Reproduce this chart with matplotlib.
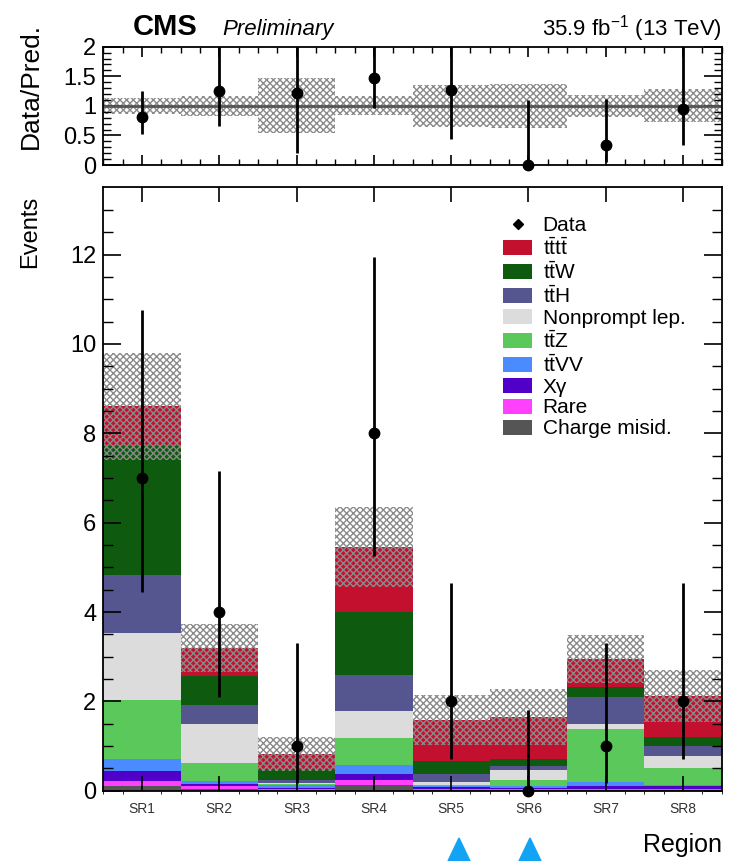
import numpy as np
import matplotlib
matplotlib.use("Agg")
import matplotlib.pyplot as plt
from matplotlib.lines import Line2D
from matplotlib.patches import Patch, Polygon

plt.rcParams["font.family"] = ["Liberation Sans", "DejaVu Sans"]
plt.rcParams["mathtext.fontset"] = "custom"
plt.rcParams["mathtext.rm"] = "Liberation Sans"
plt.rcParams["mathtext.it"] = "Liberation Sans:italic"
plt.rcParams["hatch.linewidth"] = 1.0

# ---------- data ----------
regions = ["SR1", "SR2", "SR3", "SR4", "SR5", "SR6", "SR7", "SR8"]

# stacked backgrounds, bottom to top
charge_misid = [0.10, 0.03, 0.02, 0.12, 0.02, 0.02, 0.02, 0.02]
rare         = [0.12, 0.07, 0.02, 0.11, 0.02, 0.02, 0.02, 0.02]
xgamma       = [0.21, 0.05, 0.03, 0.14, 0.04, 0.03, 0.06, 0.06]
ttvv         = [0.29, 0.07, 0.05, 0.20, 0.02, 0.03, 0.10, 0.02]
ttz          = [1.31, 0.39, 0.03, 0.60, 0.03, 0.13, 1.17, 0.38]
nonprompt    = [1.50, 0.89, 0.02, 0.62, 0.07, 0.23, 0.12, 0.27]
tth          = [1.30, 0.41, 0.08, 0.80, 0.17, 0.09, 0.61, 0.23]
ttw          = [2.89, 0.65, 0.22, 1.41, 0.30, 0.15, 0.23, 0.20]
tttt         = [0.88, 0.63, 0.35, 1.46, 0.91, 0.95, 0.61, 0.92]

pred_unc = [1.20, 0.54, 0.38, 0.89, 0.56, 0.62, 0.54, 0.59]

data_obs = [7, 4, 1, 8, 2, 0, 1, 2]
data_lo  = [4.45, 2.10, 0.17, 5.25, 0.70, 0.00, 0.17, 0.70]
data_hi  = [10.75, 7.15, 3.30, 11.95, 4.65, 1.80, 3.30, 4.65]

components = [
    ("Charge misid.", charge_misid, "#555555"),
    ("Rare", rare, "#FF40FF"),
    ("Xγ", xgamma, "#5000C8"),
    (r"$\mathrm{t\bar{t}VV}$", ttvv, "#4A8CFF"),
    (r"$\mathrm{t\bar{t}Z}$", ttz, "#5AC85A"),
    ("Nonprompt lep.", nonprompt, "#DCDCDC"),
    (r"$\mathrm{t\bar{t}H}$", tth, "#55558F"),
    (r"$\mathrm{t\bar{t}W}$", ttw, "#0E5A0E"),
    (r"$\mathrm{t\bar{t}t\bar{t}}$", tttt, "#C4102F"),
]

x = np.arange(len(regions))
centers = x + 0.5
data_obs = np.array(data_obs, dtype=float)
data_lo = np.array(data_lo)
data_hi = np.array(data_hi)
pred_unc = np.array(pred_unc)

W, H = 733, 861
fig = plt.figure(figsize=(W / 100, H / 100), dpi=100)
L, R = 103.3 / W, 721.7 / W
ax_r = fig.add_axes([L, 1 - 165 / H, R - L, (165 - 46.7) / H])
ax = fig.add_axes([L, 1 - 790.7 / H, R - L, (790.7 - 186.7) / H], sharex=ax_r)

# ---------- main panel ----------
bottom = np.zeros(len(regions))
for label, vals, color in components:
    vals = np.array(vals)
    ax.bar(x, vals, width=1, bottom=bottom, align="edge", color=color, linewidth=0)
    bottom = bottom + vals
total = bottom

ax.bar(x, 2 * pred_unc, width=1, bottom=total - pred_unc, align="edge",
       fill=False, hatch="xxxxx", edgecolor="#8a8a8a", linewidth=0)

ax.vlines(centers, data_lo, data_hi, color="black", linewidth=2, zorder=5)
ax.plot(centers, data_obs, "o", color="black", markersize=7.5, zorder=6, clip_on=False)

ax.set_xlim(0, 8)
ax.set_ylim(0, 13.52)
ax.set_xticks(centers)
ax.set_xticklabels(regions, fontsize=10, color="#333333")
ax.set_yticks(np.arange(0, 13, 2))
ax.set_yticks(np.arange(0, 13.5, 0.5), minor=True)
ax.tick_params(axis="y", which="major", direction="in", length=13, width=1.2,
               left=True, right=True, labelsize=17, pad=5)
ax.tick_params(axis="y", which="minor", direction="in", length=7, width=1.0,
               left=True, right=True)
ax.tick_params(axis="x", which="major", direction="in", length=11, width=1.2,
               top=True, bottom=True, pad=8)
for s in ax.spines.values():
    s.set_linewidth(1.3)

fig.text(30 / W, 1 - 196 / H, "Events", rotation=90,
         ha="center", va="top", fontsize=17)
fig.text(R, 1 - 845 / H, "Region", ha="right", va="center", fontsize=18)

handles = [Line2D([], [], marker="D", color="black", linestyle="none", markersize=5)]
labels = ["Data"]
for label, vals, color in components[::-1]:
    handles.append(Patch(facecolor=color, edgecolor="none"))
    labels.append(label)
fig.legend(handles, labels, loc="upper left",
           bbox_to_anchor=(503 / W, 1 - 216 / H), frameon=False, fontsize=15,
           handlelength=1.4, handleheight=0.75, handletextpad=0.5,
           labelspacing=0.095, borderpad=0, borderaxespad=0)

# ---------- ratio panel ----------
ratio = data_obs / total
ratio_lo = data_lo / total
ratio_hi = data_hi / total
rel_unc = pred_unc / total

ax_r.bar(x, 2 * rel_unc, width=1, bottom=1 - rel_unc, align="edge",
         fill=False, hatch="xxxxx", edgecolor="#8a8a8a", linewidth=0)
ax_r.axhline(1, color="#555555", linewidth=2)
ax_r.vlines(centers, ratio_lo, ratio_hi, color="black", linewidth=2, zorder=5)
ax_r.plot(centers, ratio, "o", color="black", markersize=7.5, zorder=6, clip_on=False)

ax_r.set_ylim(0, 2)
ax_r.set_yticks([0, 0.5, 1, 1.5, 2])
ax_r.set_yticklabels(["0", "0.5", "1", "1.5", "2"])
ax_r.set_yticks(np.arange(0, 2.01, 0.1), minor=True)
ax_r.set_xticks(np.arange(0, 8.01, 0.25), minor=True)
ax_r.tick_params(axis="y", which="major", direction="in", length=13, width=1.2,
                 left=True, right=True, labelsize=17, pad=5)
ax_r.tick_params(axis="y", which="minor", direction="in", length=6, width=1.0,
                 left=True, right=True)
ax_r.tick_params(axis="x", which="major", direction="in", length=7, width=1.2,
                 top=True, bottom=True, labelbottom=False)
ax_r.tick_params(axis="x", which="minor", direction="in", length=4, width=1.0,
                 top=True, bottom=True)
for s in ax_r.spines.values():
    s.set_linewidth(1.3)
fig.text(31 / W, 1 - 86 / H, "Data/Pred.", rotation=90,
         ha="center", va="center", fontsize=19)

fig.text(133 / W, 1 - 27 / H, "CMS", fontsize=21, fontweight="bold", va="center")
fig.text(222 / W, 1 - 29 / H, "Preliminary", fontsize=16, style="italic", va="center")
fig.text(R, 1 - 29 / H, r"35.9 fb$^{-1}$ (13 TeV)", fontsize=16, ha="right", va="center")

# blue arrows under SR5 and SR6
for cx in [459, 530]:
    tri = Polygon([((cx - 11) / W, 0), ((cx + 11) / W, 0), (cx / W, 1 - 838 / H)],
                  closed=True, transform=fig.transFigure, color="#12A4F2")
    fig.patches.append(tri)

fig.savefig("out.png", dpi=100)
